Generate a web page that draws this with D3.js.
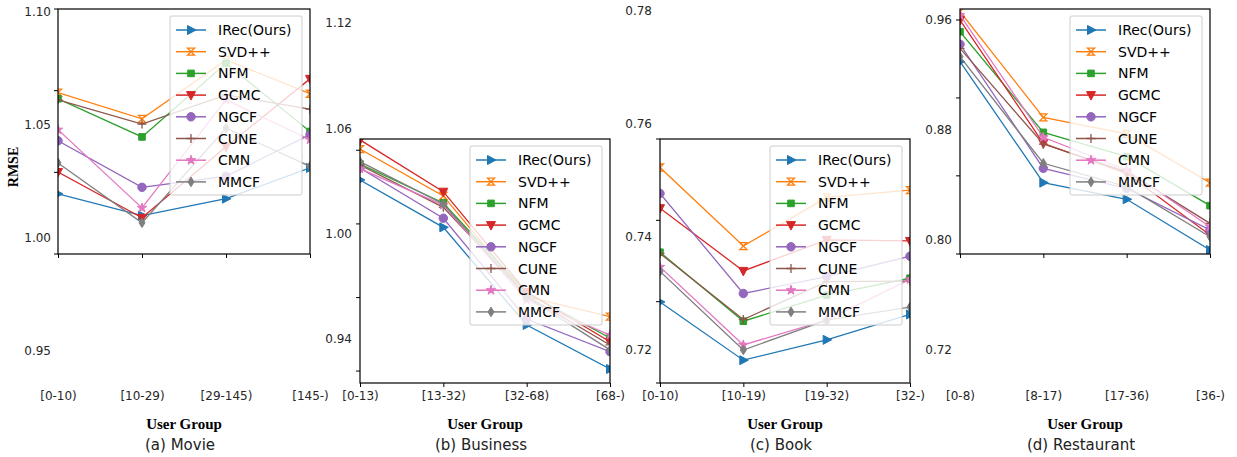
<!DOCTYPE html>
<meta charset="utf-8">
<style>
  body { margin: 0; background: #fff; }
  text { font-family: "DejaVu Sans", sans-serif; }
</style>
<body>
<script src="https://d3js.org/d3.v7.min.js"></script>
<script>
// methods and colours (matplotlib tab10)
var methods = ["IRec(Ours)", "SVD++", "NFM", "GCMC", "NGCF", "CUNE", "CMN", "MMCF"];
var colors = ["#1f77b4", "#ff7f0e", "#2ca02c", "#d62728", "#9467bd", "#8c564b", "#e377c2", "#7f7f7f"];
var markers = ["tri-right", "hourglass", "square", "tri-down", "circle", "plus", "star", "diamond"];

// (a) Movie
var movieGroups = ["[0-10)", "[10-29)", "[29-145)", "[145-)"];
var movieTicks = [1.10, 1.05, 1.00, 0.95];
var movieRmse = [
  [1.0193, 1.0097, 1.0172, 1.0308],
  [1.0641, 1.0525, 1.0786, 1.0636],
  [1.0614, 1.0445, 1.0771, 1.0469],
  [1.0290, 1.0087, 1.0402, 1.0702],
  [1.0428, 1.0222, 1.0271, 1.0455],
  [1.0609, 1.0502, 1.0631, 1.0568],
  [1.0477, 1.0131, 1.0609, 1.0433],
  [1.0330, 1.0065, 1.0484, 1.0315]
];

// (b) Business
var businessGroups = ["[0-13)", "[13-32)", "[32-68)", "[68-)"];
var businessTicks = [1.12, 1.06, 1.00, 0.94];
var businessRmse = [
  [1.0306, 1.0036, 0.9480, 0.9229],
  [1.0482, 1.0215, 0.9641, 0.9527],
  [1.0397, 1.0175, 0.9662, 0.9406],
  [1.0534, 1.0239, 0.9668, 0.9385],
  [1.0374, 1.0088, 0.9514, 0.9328],
  [1.0391, 1.0150, 0.9645, 0.9366],
  [1.0370, 1.0163, 0.9622, 0.9423],
  [1.0410, 1.0169, 0.9639, 0.9338]
];

// (c) Book
var bookGroups = ["[0-10)", "[10-19)", "[19-32)", "[32-)"];
var bookTicks = [0.78, 0.76, 0.74, 0.72];
var bookRmse = [
  [0.7285, 0.7182, 0.7218, 0.7263],
  [0.7523, 0.7384, 0.7470, 0.7483],
  [0.7373, 0.7251, 0.7297, 0.7327],
  [0.7451, 0.7340, 0.7395, 0.7393],
  [0.7477, 0.7300, 0.7330, 0.7366],
  [0.7371, 0.7254, 0.7321, 0.7322],
  [0.7347, 0.7209, 0.7253, 0.7325],
  [0.7339, 0.7200, 0.7253, 0.7276]
];

// (d) Restaurant
var restGroups = ["[0-8)", "[8-17)", "[17-36)", "[36-)"];
var restTicks = [0.96, 0.88, 0.80, 0.72];
var restRmse = [
  [0.9297, 0.8417, 0.8296, 0.7927],
  [0.9660, 0.8892, 0.8771, 0.8417],
  [0.9515, 0.8783, 0.8606, 0.8250],
  [0.9600, 0.8703, 0.8485, 0.8036],
  [0.9423, 0.8521, 0.8376, 0.8073],
  [0.9394, 0.8698, 0.8497, 0.8121],
  [0.9636, 0.8747, 0.8509, 0.8097],
  [0.9333, 0.8558, 0.8388, 0.8024]
];

var width = 1237, height = 457;

// layout of each panel: plot frame, where the tick labels sit, spine tick fractions
var panels = [
  {caption: "(a) Movie", groups: movieGroups, ticks: movieTicks, rmse: movieRmse,
   box: {x0: 58, x1: 310, y0: 9, y1: 254}, labelY: [11.5, 350.5], labelX: 51,
   spine: [0, 1/3, 2/3, 1], ylabel: true},
  {caption: "(b) Business", groups: businessGroups, ticks: businessTicks, rmse: businessRmse,
   box: {x0: 360, x1: 610, y0: 139, y1: 383}, labelY: [23, 339], labelX: 352,
   spine: [0.046, 0.348, 0.65, 0.951]},
  {caption: "(c) Book", groups: bookGroups, ticks: bookTicks, rmse: bookRmse,
   box: {x0: 660, x1: 910, y0: 139, y1: 383}, labelY: [11, 350], labelX: 652,
   spine: [0, 1/3, 2/3, 1]},
  {caption: "(d) Restaurant", groups: restGroups, ticks: restTicks, rmse: restRmse,
   box: {x0: 960, x1: 1210, y0: 9, y1: 254}, labelY: [20, 350], labelX: 952,
   spine: [0.045, 0.363, 0.681, 1]}
];

function markerPath(type) {
  switch (type) {
    case "tri-right": return "M-3.5,-4.5L5,0L-3.5,4.5Z";
    case "tri-down": return "M-4.5,-3.5L4.5,-3.5L0,5Z";
    case "square": return "M-3.3,-3.3H3.3V3.3H-3.3Z";
    case "circle": return d3.symbol(d3.symbolCircle, 56)();
    case "star": return d3.symbol(d3.symbolStar, 28)();
    case "diamond": return "M0,-4.8L3,0L0,4.8L-3,0Z";
    case "plus": return "M-4.5,0H4.5M0,-4.5V4.5";
    case "hourglass": return "M-3.5,-3.5H3.5L-3.5,3.5H3.5Z";
  }
}
function strokeOnly(type) { return type === "plus" || type === "hourglass"; }

function drawMarker(g, type, color, x, y) {
  g.append("path")
    .attr("d", markerPath(type))
    .attr("transform", "translate(" + x + "," + y + ")")
    .attr("fill", strokeOnly(type) ? "none" : color)
    .attr("stroke", color)
    .attr("stroke-width", strokeOnly(type) ? 1.3 : 1);
}

var svg = d3.select("body").append("svg")
    .attr("width", width)
    .attr("height", height);

panels.forEach(function(p, pi) {
  var b = p.box;
  var x = d3.scalePoint().domain(p.groups).range([b.x0, b.x1]);
  var y = d3.scaleLinear()
      .domain([p.ticks[0], p.ticks[p.ticks.length - 1]])
      .range(p.labelY);
  var g = svg.append("g");

  svg.append("defs").append("clipPath")
      .attr("id", "clip" + pi)
    .append("rect")
      .attr("x", b.x0).attr("y", b.y0)
      .attr("width", b.x1 - b.x0).attr("height", b.y1 - b.y0);

  // series
  var plot = g.append("g").attr("clip-path", "url(#clip" + pi + ")");
  var line = d3.line()
      .x(function(d, i) { return x(p.groups[i]); })
      .y(function(d) { return y(d); });
  p.rmse.forEach(function(vals, si) {
    plot.append("path")
        .attr("d", line(vals))
        .attr("fill", "none")
        .attr("stroke", colors[si])
        .attr("stroke-width", 1.3);
    vals.forEach(function(v, i) {
      drawMarker(plot, markers[si], colors[si], x(p.groups[i]), y(v));
    });
  });

  // frame
  g.append("rect")
      .attr("x", b.x0).attr("y", b.y0)
      .attr("width", b.x1 - b.x0).attr("height", b.y1 - b.y0)
      .attr("fill", "none")
      .attr("stroke", "#000")
      .attr("stroke-width", 1.2);

  // spine ticks on the left
  p.spine.forEach(function(f) {
    var ty = b.y0 + f * (b.y1 - b.y0);
    g.append("line")
        .attr("x1", b.x0 - 4).attr("x2", b.x0)
        .attr("y1", ty).attr("y2", ty)
        .attr("stroke", "#000").attr("stroke-width", 1);
  });

  // y tick labels
  g.selectAll(".ylab")
    .data(p.ticks)
    .enter().append("text")
      .attr("x", p.labelX)
      .attr("y", function(d) { return y(d); })
      .attr("dy", "0.35em")
      .attr("text-anchor", "end")
      .attr("font-size", 12)
      .attr("fill", "#262626")
      .text(function(d) { return d3.format(".2f")(d); });

  // x axis ticks and labels
  var xAxis = d3.axisBottom(x).tickSize(4).tickPadding(0);
  var ax = g.append("g")
      .attr("transform", "translate(0," + b.y1 + ")")
      .call(xAxis);
  ax.select(".domain").remove();
  ax.selectAll(".tick line").attr("stroke", "#000");
  ax.selectAll(".tick text")
      .attr("y", 400 - b.y1)
      .attr("dy", 0)
      .attr("font-size", 12)
      .attr("font-family", "DejaVu Sans")
      .attr("fill", "#262626");

  var cx = (b.x0 + b.x1) / 2;
  g.append("text")
      .attr("x", cx)
      .attr("y", 429)
      .attr("text-anchor", "middle")
      .style("font-family", "'Liberation Serif', 'Times New Roman', serif")
      .style("font-weight", "bold")
      .attr("font-size", 15)
      .text("User Group");
  g.append("text")
      .attr("x", cx - 4)
      .attr("y", 450)
      .attr("text-anchor", "middle")
      .attr("font-size", 15)
      .attr("fill", "#222")
      .text(p.caption);

  if (p.ylabel) {
    g.append("text")
        .attr("transform", "translate(18,167) rotate(-90)")
        .attr("text-anchor", "middle")
        .style("font-family", "'Liberation Serif', 'Times New Roman', serif")
        .style("font-weight", "bold")
        .attr("font-size", 14)
        .text("RMSE");
  }

  // legend
  var lx = b.x1 - 140, ly = b.y0 + 7;
  var leg = g.append("g").attr("transform", "translate(" + lx + "," + ly + ")");
  leg.append("rect")
      .attr("width", 132).attr("height", 179)
      .attr("rx", 2)
      .attr("fill", "#fff").attr("fill-opacity", 0.8)
      .attr("stroke", "#ccc").attr("stroke-width", 1);
  methods.forEach(function(m, si) {
    var ry = 14 + si * 21.7;
    leg.append("line")
        .attr("x1", 6).attr("x2", 36)
        .attr("y1", ry).attr("y2", ry)
        .attr("stroke", colors[si]).attr("stroke-width", 1.5);
    drawMarker(leg, markers[si], colors[si], 21, ry);
    leg.append("text")
        .attr("x", 48).attr("y", ry)
        .attr("dy", "0.36em")
        .attr("font-size", 14)
        .attr("fill", "#000")
        .text(m);
  });
});
</script>
</body>
